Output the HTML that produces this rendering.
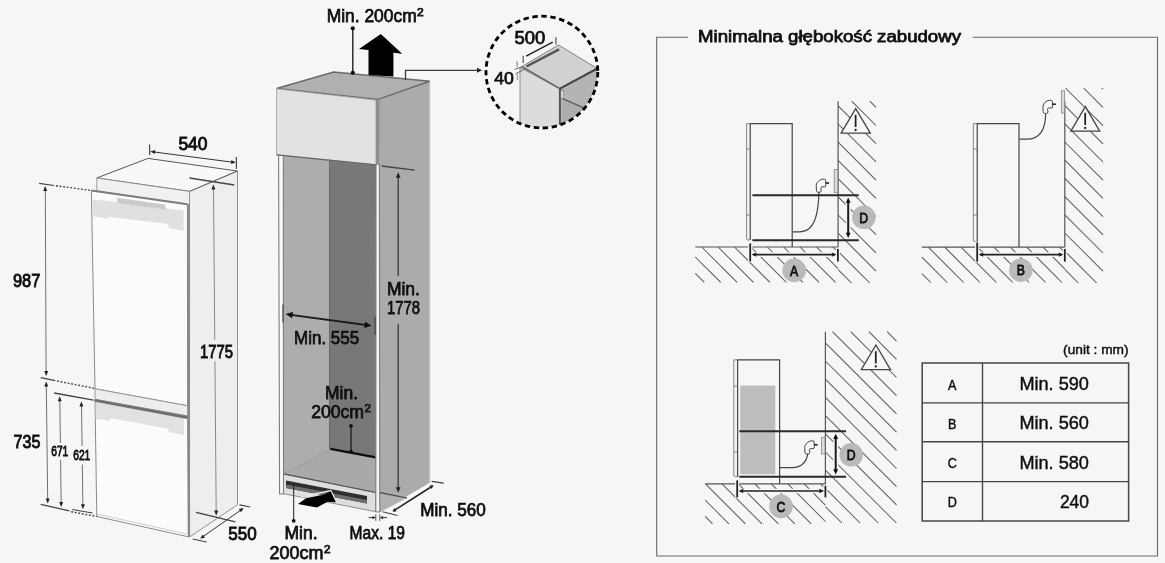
<!DOCTYPE html>
<html><head><meta charset="utf-8">
<style>
html,body{margin:0;padding:0;background:#f6f6f6;}
svg{display:block;}
text{font-family:"Liberation Sans",sans-serif;fill:#111;}
.t{stroke:#111;stroke-width:0.75px;}
.tb{stroke-width:0.9px;}
.tl{stroke-width:0.45px;}
.n{stroke:none;}
</style></head>
<body>
<svg width="1165" height="563" viewBox="0 0 1165 563">
<defs>
<filter id="b1" x="-2%" y="-2%" width="104%" height="104%"><feGaussianBlur stdDeviation="0.5"/></filter>
<filter id="b2" x="-20%" y="-20%" width="140%" height="140%"><feGaussianBlur stdDeviation="0.5"/></filter>
<clipPath id="cc"><circle cx="541.9" cy="72.1" r="55.5"/></clipPath>
</defs>
<rect width="1165" height="563" fill="#f6f6f6"/>
<g filter="url(#b1)">
<!-- left fridge -->
<polygon points="189.5,191.4 237.5,171 237.5,504.8 189.5,537" fill="#eeeeee" stroke="#909090" stroke-width="1"/>
<polygon points="96.8,178 148,158.4 237.3,171 189.5,191.4" fill="#f8f8f8" stroke="#555" stroke-width="1"/>
<polygon points="96.8,178 189.5,191.4 189.5,205 96.8,191" fill="#f1f1f1" stroke="#888" stroke-width="0.8"/>
<polygon points="91.4,190.4 187.4,204.2 187.6,405.8 95,388.8" fill="#fbfbfb" stroke="#8a8a8a" stroke-width="1"/>
<polygon points="92.8,199.6 117,202 117.2,197.7 165.1,204.5 166,208.5 183.6,210.4 183.6,231 169,228 168,224 108.4,216.7 107.5,218.7 92.8,216.3" fill="#dddddd" opacity="0.9"/>
<polygon points="117.2,198 165.1,204.8 165.1,209.6 117.2,202.8" fill="#c6c6c6" opacity="0.85"/>
<line x1="91.4" y1="190.6" x2="187.4" y2="204.2" stroke="#7d7d7d" stroke-width="2"/>
<polygon points="95,388.8 187.6,405.8 187.6,416 95,399.4" fill="#ededed" stroke="#888" stroke-width="0.8"/>
<polygon points="95,399.4 187.6,416 188.4,536.8 96.8,516.5" fill="#fbfbfb" stroke="#8a8a8a" stroke-width="1"/>
<polygon points="95.7,402 184,418.3 184,435 169,432 168,428.8 110.4,418.1 109.4,420.5 95.7,419" fill="#dedede" opacity="0.9"/>
<line x1="94.8" y1="400.5" x2="187.5" y2="417.6" stroke="#6e6e6e" stroke-width="2.6"/>
<line x1="97.5" y1="514.2" x2="187.6" y2="534.2" stroke="#c8c8c8" stroke-width="0.9"/>
<line x1="188.4" y1="204" x2="189" y2="537" stroke="#888" stroke-width="2.2"/>
<line x1="149.6" y1="144.5" x2="149.6" y2="155" stroke="#444" stroke-width="1.2"/>
<line x1="236.4" y1="157" x2="236.4" y2="169" stroke="#444" stroke-width="1.2"/>
<line x1="151" y1="151.6" x2="235" y2="162.5" stroke="#333" stroke-width="1"/>
<polygon points="150.6,151.5 155.3,150.1 154.8,154.1" fill="#222"/>
<polygon points="235.6,162.6 230.9,164.0 231.4,160.0" fill="#222"/>
<text x="178.4" y="149.5" font-size="17.6" text-anchor="start" class="t tb" textLength="29.1" lengthAdjust="spacingAndGlyphs">540</text>
<line x1="39.2" y1="183.3" x2="54" y2="185.5" stroke="#444" stroke-width="1.2"/>
<line x1="56" y1="185.7" x2="90.4" y2="190.4" stroke="#444" stroke-width="1.4" stroke-dasharray="1.9,1.7"/>
<line x1="45.3" y1="188" x2="46.1" y2="374" stroke="#707070" stroke-width="1"/>
<polygon points="45.2,186.0 47.2,191.0 43.2,191.0" fill="#222"/>
<polygon points="46.2,376.0 44.2,371.0 48.2,371.0" fill="#222"/>
<line x1="40.7" y1="377.7" x2="55.2" y2="380.7" stroke="#444" stroke-width="1.2"/>
<line x1="57" y1="381" x2="94.6" y2="388.4" stroke="#444" stroke-width="1.4" stroke-dasharray="1.9,1.7"/>
<line x1="46.3" y1="384" x2="47.7" y2="501" stroke="#707070" stroke-width="1"/>
<polygon points="46.2,381.4 48.2,386.4 44.2,386.4" fill="#222"/>
<polygon points="47.7,503.5 45.7,498.5 49.7,498.5" fill="#222"/>
<text x="12.9" y="287.2" font-size="19" text-anchor="start" class="t tb" textLength="27.5" lengthAdjust="spacingAndGlyphs">987</text>
<text x="13.6" y="447.5" font-size="19" text-anchor="start" class="t tb" textLength="26.9" lengthAdjust="spacingAndGlyphs">735</text>
<line x1="54.1" y1="393" x2="93.6" y2="400.1" stroke="#444" stroke-width="1.3"/>
<line x1="59.8" y1="399" x2="61.2" y2="505" stroke="#707070" stroke-width="1"/>
<polygon points="59.7,396.3 61.7,401.3 57.7,401.3" fill="#222"/>
<polygon points="61.2,507.0 59.2,502.0 63.2,502.0" fill="#222"/>
<line x1="81.5" y1="404" x2="82.9" y2="507" stroke="#707070" stroke-width="1"/>
<polygon points="81.4,401.4 83.4,406.4 79.4,406.4" fill="#222"/>
<polygon points="82.9,509.3 80.9,504.3 84.9,504.3" fill="#222"/>
<rect x="50" y="443" width="20" height="17" fill="#f6f6f6"/>
<text x="51.2" y="455.8" font-size="14.6" text-anchor="start" class="t tb" textLength="17.1" lengthAdjust="spacingAndGlyphs">671</text>
<rect x="72" y="446" width="20" height="18.5" fill="#f6f6f6"/>
<text x="73.2" y="460" font-size="14.6" text-anchor="start" class="t tb" textLength="17.1" lengthAdjust="spacingAndGlyphs">621</text>
<line x1="40.7" y1="504.4" x2="69.5" y2="510.8" stroke="#444" stroke-width="1.2"/>
<line x1="72.2" y1="509.5" x2="92.5" y2="513" stroke="#444" stroke-width="1.2"/>
<line x1="71.2" y1="511.7" x2="96.8" y2="516.5" stroke="#444" stroke-width="1.4" stroke-dasharray="1.9,1.7"/>
<line x1="189.5" y1="178" x2="234.3" y2="185" stroke="#444" stroke-width="1.3"/>
<line x1="213.5" y1="187" x2="216.2" y2="513" stroke="#888" stroke-width="1"/>
<polygon points="213.4,184.5 215.4,189.5 211.4,189.5" fill="#222"/>
<polygon points="216.2,515.5 214.2,510.5 218.2,510.5" fill="#222"/>
<line x1="195.9" y1="512.3" x2="235.4" y2="521.9" stroke="#444" stroke-width="1.3"/>
<rect x="198" y="339.8" width="36" height="21.4" fill="#eeeeee"/>
<text x="200" y="357.6" font-size="18.5" text-anchor="start" class="t tb" textLength="33" lengthAdjust="spacingAndGlyphs">1775</text>
<line x1="192.7" y1="539" x2="206.6" y2="542" stroke="#444" stroke-width="1.2"/>
<line x1="239.6" y1="504.8" x2="250.3" y2="507" stroke="#444" stroke-width="1.2"/>
<line x1="201.2" y1="537.9" x2="242.8" y2="508.7" stroke="#333" stroke-width="1"/>
<polygon points="200.2,538.6 202.7,534.4 205.0,537.7" fill="#222"/>
<polygon points="243.6,508.1 241.1,512.3 238.8,509.0" fill="#222"/>
<text x="228.3" y="540.2" font-size="18.5" text-anchor="start" class="t tb" textLength="28.4" lengthAdjust="spacingAndGlyphs">550</text>
<!-- cabinet -->
<polygon points="379,99.4 430,81.3 430,482.4 379.8,512.3" fill="#ababab"/>
<polygon points="379.8,492.8 407,498 379.8,512.3" fill="#b1b1b1"/>
<line x1="379.8" y1="492.6" x2="407.2" y2="498" stroke="#444" stroke-width="1.2"/>
<polygon points="281,150 377,160 377,493 281,474" fill="#a9a9a9"/>
<polygon points="283,150 329.5,158 329.5,449 283,474" fill="#adadad"/>
<polygon points="329.5,155 376.2,164 376.2,458 329.5,449" fill="#787878"/>
<line x1="329.5" y1="158" x2="329.5" y2="449" stroke="#6a6a6a" stroke-width="1"/>
<polygon points="330.4,449.3 375.8,457.8 375.8,492.5 283.5,473.9" fill="#a9a9a9"/>
<line x1="283.5" y1="473.9" x2="330.4" y2="449.3" stroke="#999" stroke-width="0.8"/>
<line x1="330.4" y1="448.9" x2="375.8" y2="457.4" stroke="#111" stroke-width="2.4"/>
<polygon points="283.5,473.9 375.8,492.5 375.8,511.7 283.5,493.7" fill="#dedede" stroke="#777" stroke-width="0.8"/>
<line x1="283.5" y1="473.9" x2="375.8" y2="492.5" stroke="#555" stroke-width="1.2"/>
<polygon points="286,480.5 367,495.9 367,503.4 286,487.9" fill="#2e2e2e"/>
<polygon points="289,485 367,500 367,503.4 286,487.9 286,485" fill="#6e6e6e"/>
<polygon points="278.6,154.5 283.3,155.3 283.5,494 279.6,494" fill="#fafafa" stroke="#7c7c7c" stroke-width="1.1"/>
<polygon points="376,164 379.4,164 379.8,512 375.8,511.7" fill="#f4f4f4" stroke="#7c7c7c" stroke-width="1.1"/>
<polygon points="276.6,88.5 333.6,72 429.8,81.2 377.4,99.6" fill="#b0b0b0" stroke="#6a6a6a" stroke-width="1.5"/>
<polygon points="276.6,88.8 376.2,100.1 376.2,164.9 276.6,154.9" fill="#e2e2e2" stroke="#999" stroke-width="0.8"/>
<line x1="276.6" y1="154.9" x2="376.2" y2="164.9" stroke="#666" stroke-width="1.2"/>
<polygon points="375.8,100.1 379.4,99.4 379.4,164.8 375.8,164.9" fill="#8e8e8e"/>
<line x1="429.6" y1="82" x2="429.6" y2="482" stroke="#c2c2c2" stroke-width="1.2"/>
<line x1="352.8" y1="28.4" x2="352.8" y2="72.8" stroke="#222" stroke-width="1.4"/>
<circle cx="352.8" cy="28.3" r="2.1" fill="#111"/><circle cx="352.8" cy="72.8" r="2.1" fill="#111"/>
<polygon points="380.8,33.9 402.2,53.7 393.4,52.7 393.4,76.6 368.5,74.9 368.5,49.9 359,49" fill="#000"/>
<polyline points="405.5,80 405.5,70.3 479,70.3" fill="none" stroke="#3a3a3a" stroke-width="1.3"/>
<polygon points="482.0,70.3 477.0,72.8 477.0,67.8" fill="#222"/>
<text x="326.7" y="21.9" font-size="18" text-anchor="start" class="t" textLength="90.0" lengthAdjust="spacingAndGlyphs">Min. 200cm</text>
<text x="417.1" y="15.6" font-size="11.5" text-anchor="start" class="t" textLength="6.7" lengthAdjust="spacingAndGlyphs">2</text>
<line x1="381.5" y1="166" x2="414.6" y2="170.2" stroke="#444" stroke-width="1.3"/>
<line x1="398.2" y1="175" x2="398.2" y2="276" stroke="#3a3a3a" stroke-width="1.3"/>
<polygon points="398.2,172.3 400.6,177.8 395.8,177.8" fill="#222"/>
<line x1="398.2" y1="323.7" x2="398.2" y2="490" stroke="#3a3a3a" stroke-width="1.3"/>
<polygon points="398.2,492.7 395.8,487.2 400.6,487.2" fill="#222"/>
<text x="386.9" y="294.9" font-size="17.5" text-anchor="start" class="t" textLength="33" lengthAdjust="spacingAndGlyphs">Min.</text>
<text x="386.9" y="313.7" font-size="17.5" text-anchor="start" class="t" textLength="33" lengthAdjust="spacingAndGlyphs">1778</text>
<line x1="283" y1="304.5" x2="283" y2="322.6" stroke="#444" stroke-width="1.2"/>
<line x1="375.1" y1="316.7" x2="375.1" y2="335" stroke="#444" stroke-width="1.2"/>
<line x1="289" y1="314.6" x2="368" y2="325.3" stroke="#1a1a1a" stroke-width="1.9"/>
<polygon points="285.6,314.1 293.0,311.9 292.1,318.2" fill="#111"/>
<polygon points="371.6,325.8 364.2,328.0 365.1,321.7" fill="#111"/>
<text x="294.1" y="343.5" font-size="17.5" text-anchor="start" class="t" textLength="65" lengthAdjust="spacingAndGlyphs">Min. 555</text>
<text x="325" y="398.8" font-size="17.5" text-anchor="start" class="t" textLength="33" lengthAdjust="spacingAndGlyphs">Min.</text>
<text x="311.2" y="418.4" font-size="17.5" text-anchor="start" class="t" textLength="52.8" lengthAdjust="spacingAndGlyphs">200cm</text>
<text x="364.4" y="412.3" font-size="11.2" text-anchor="start" class="t" textLength="6.5" lengthAdjust="spacingAndGlyphs">2</text>
<line x1="351" y1="425.8" x2="351" y2="451.4" stroke="#111" stroke-width="1.2"/>
<circle cx="351" cy="425.8" r="1.9" fill="#111"/><circle cx="351" cy="451.6" r="1.9" fill="#111"/>
<polyline points="301,497 330.7,490.6 336.8,502.4" fill="none" stroke="#e8e8e8" stroke-width="1.4"/><polygon points="297.9,504.1 306.2,498.3 323.3,494.8 330.7,491.4 335.9,502.3 327.6,501.8 316.9,507.6" fill="#000"/>
<line x1="293.7" y1="484.6" x2="293.7" y2="520.8" stroke="#222" stroke-width="1"/>
<circle cx="293.7" cy="520.8" r="1.9" fill="#111"/>
<text x="284.5" y="539" font-size="17.5" text-anchor="start" class="t" textLength="33" lengthAdjust="spacingAndGlyphs">Min.</text>
<text x="269.6" y="559.2" font-size="17.5" text-anchor="start" class="t" textLength="53.9" lengthAdjust="spacingAndGlyphs">200cm</text>
<text x="323.9" y="553.1" font-size="11.2" text-anchor="start" class="t" textLength="6.5" lengthAdjust="spacingAndGlyphs">2</text>
<line x1="375.8" y1="514.4" x2="375.8" y2="520.8" stroke="#555" stroke-width="1"/>
<line x1="379.8" y1="514.4" x2="379.8" y2="520.8" stroke="#555" stroke-width="1"/>
<line x1="368.7" y1="517.6" x2="374" y2="517.6" stroke="#333" stroke-width="1"/>
<line x1="381.6" y1="517.6" x2="387" y2="517.6" stroke="#333" stroke-width="1"/>
<polygon points="375.6,517.6 372.6,519.2 372.6,516.0" fill="#222"/>
<polygon points="380.0,517.6 383.0,516.0 383.0,519.2" fill="#222"/>
<text x="349.6" y="539" font-size="17.5" text-anchor="start" class="t" textLength="55.4" lengthAdjust="spacingAndGlyphs">Max. 19</text>
<line x1="382.6" y1="511.7" x2="397.5" y2="515.5" stroke="#444" stroke-width="1.1"/>
<line x1="431.6" y1="481.4" x2="443.8" y2="483.1" stroke="#444" stroke-width="1.1"/>
<line x1="393.5" y1="510.9" x2="432.5" y2="486" stroke="#222" stroke-width="1.5"/>
<polygon points="392.4,511.6 394.4,508.0 396.5,511.4" fill="#222"/>
<polygon points="433.6,485.3 431.6,488.9 429.5,485.5" fill="#222"/>
<text x="420.3" y="516.1" font-size="17.5" text-anchor="start" class="t" textLength="65.5" lengthAdjust="spacingAndGlyphs">Min. 560</text>
<!-- detail circle -->
<g clip-path="url(#cc)">
<polygon points="520,67.5 559.9,89 559.9,135 520,135" fill="#dcdcdc" stroke="#888" stroke-width="0.9"/>
<polygon points="559.9,88.6 598,68.3 598,135 559.9,135" fill="#b4b4b4"/>
<polygon points="562.6,98.6 584,108 562.6,135" fill="#adadad"/>
<line x1="562.6" y1="98.6" x2="584" y2="108" stroke="#555" stroke-width="1.2"/>
<polygon points="521,67 558.6,45 596.9,68.3 559.9,88.6" fill="#d1d1d1" stroke="#777" stroke-width="0.9"/>
<line x1="522" y1="66.7" x2="559.9" y2="88.6" stroke="#666" stroke-width="1.4"/>
<line x1="526.4" y1="66.5" x2="559.1" y2="49.4" stroke="#555" stroke-width="2.4"/>
<line x1="559.9" y1="88.6" x2="597.4" y2="68.5" stroke="#444" stroke-width="2"/>
<line x1="559.9" y1="89" x2="559.9" y2="135" stroke="#555" stroke-width="2"/>
<rect x="560.9" y="90.8" width="2.8" height="7.6" fill="#e8e8e8" stroke="#666" stroke-width="0.6"/>
</g>
<circle cx="541.9" cy="72.1" r="55.9" fill="none" stroke="#000" stroke-width="2.8" stroke-dasharray="5.4,3.65"/>
<line x1="523.2" y1="55.8" x2="523.2" y2="63.1" stroke="#555" stroke-width="1.2"/>
<line x1="555.9" y1="37.2" x2="555.9" y2="44.5" stroke="#555" stroke-width="1.2"/>
<line x1="526.2" y1="56.1" x2="552.7" y2="42.1" stroke="#222" stroke-width="1.5"/>
<text x="514.6" y="44.4" font-size="17.5" text-anchor="start" class="t" textLength="30.8" lengthAdjust="spacingAndGlyphs">500</text>
<line x1="517.1" y1="61.5" x2="517.1" y2="66.5" stroke="#777" stroke-width="1.1"/>
<line x1="517.3" y1="73.5" x2="517.3" y2="80" stroke="#999" stroke-width="1.1"/>
<line x1="514.6" y1="69.4" x2="521" y2="67" stroke="#555" stroke-width="0.9"/>
<line x1="515.6" y1="73.8" x2="523.4" y2="69.9" stroke="#555" stroke-width="0.9"/>
<text x="494.2" y="83.9" font-size="17.3" text-anchor="start" class="t" textLength="19.6" lengthAdjust="spacingAndGlyphs">40</text>
<!-- right panel -->
<path d="M688,37.2 H656.7 V556 H1157.5 V37.2 H972.6" fill="none" stroke="#6a6a6a" stroke-width="1.15"/>
<text x="698" y="42" font-size="16.3" text-anchor="start" class="t" textLength="263" lengthAdjust="spacingAndGlyphs">Minimalna głębokość zabudowy</text>
<line x1="869.9" y1="101.2" x2="876" y2="107.3" stroke="#5c5c5c" stroke-width="1.05"/>
<line x1="851.7" y1="101.2" x2="876" y2="125.5" stroke="#5c5c5c" stroke-width="1.05"/>
<line x1="838.1" y1="105.8" x2="876" y2="143.7" stroke="#5c5c5c" stroke-width="1.05"/>
<line x1="838.1" y1="124.0" x2="876" y2="161.9" stroke="#5c5c5c" stroke-width="1.05"/>
<line x1="838.1" y1="142.2" x2="876" y2="180.1" stroke="#5c5c5c" stroke-width="1.05"/>
<line x1="838.1" y1="160.4" x2="876" y2="198.3" stroke="#5c5c5c" stroke-width="1.05"/>
<line x1="838.1" y1="178.6" x2="876" y2="216.5" stroke="#5c5c5c" stroke-width="1.05"/>
<line x1="838.1" y1="196.8" x2="876" y2="234.7" stroke="#5c5c5c" stroke-width="1.05"/>
<line x1="838.1" y1="215.0" x2="876" y2="252.9" stroke="#5c5c5c" stroke-width="1.05"/>
<line x1="838.1" y1="233.2" x2="876" y2="271.1" stroke="#5c5c5c" stroke-width="1.05"/>
<line x1="838.1" y1="251.4" x2="869.7" y2="283" stroke="#5c5c5c" stroke-width="1.05"/>
<line x1="838.1" y1="269.6" x2="851.5" y2="283" stroke="#5c5c5c" stroke-width="1.05"/>
<line x1="695.3" y1="273.4" x2="704.3" y2="282.4" stroke="#5c5c5c" stroke-width="1.05"/>
<line x1="695.3" y1="257.0" x2="720.7" y2="282.4" stroke="#5c5c5c" stroke-width="1.05"/>
<line x1="701.7" y1="247" x2="737.1" y2="282.4" stroke="#5c5c5c" stroke-width="1.05"/>
<line x1="718.1" y1="247" x2="753.5" y2="282.4" stroke="#5c5c5c" stroke-width="1.05"/>
<line x1="734.5" y1="247" x2="769.9" y2="282.4" stroke="#5c5c5c" stroke-width="1.05"/>
<line x1="750.9" y1="247" x2="786.3" y2="282.4" stroke="#5c5c5c" stroke-width="1.05"/>
<line x1="767.3" y1="247" x2="802.7" y2="282.4" stroke="#5c5c5c" stroke-width="1.05"/>
<line x1="783.7" y1="247" x2="819.1" y2="282.4" stroke="#5c5c5c" stroke-width="1.05"/>
<line x1="800.1" y1="247" x2="835.5" y2="282.4" stroke="#5c5c5c" stroke-width="1.05"/>
<line x1="816.5" y1="247" x2="838.1" y2="268.6" stroke="#5c5c5c" stroke-width="1.05"/>
<line x1="832.9" y1="247" x2="838.1" y2="252.2" stroke="#5c5c5c" stroke-width="1.05"/>
<line x1="838.1" y1="101.2" x2="838.1" y2="247" stroke="#555" stroke-width="1.2"/>
<line x1="695.3" y1="247" x2="838.1" y2="247" stroke="#555" stroke-width="1.2"/>
<path d="M750.2,240 V123.7 H792.2 V247" fill="none" stroke="#444" stroke-width="1.2"/>
<path d="M750.2,123.7 H746.6 V238.5 Q746.6,240 748,240 H750" fill="none" stroke="#777" stroke-width="0.9"/>
<line x1="746.6" y1="149" x2="750" y2="149" stroke="#777" stroke-width="0.9"/>
<line x1="746.6" y1="215" x2="750" y2="215" stroke="#777" stroke-width="0.9"/>
<rect x="834.2" y="169.4" width="3.6" height="23" fill="#dcdcdc" stroke="#888" stroke-width="0.8"/>
<path d="M819,192 C818.5,210 816,231.8 800,231.8 H792.4" fill="none" stroke="#444" stroke-width="1.2"/>
<path d="M816.5,190.6 L816.2,185.8 C816.2,183.1 818.2,180.6 821.3,179.4 C822.7,179.0 823.7,179.1 824.5,179.1 Q825.6,179.1 825.6,180.2 L825.8,186.3 Q825.6,186.8 824.5,186.8 L821.8,186.8 Q820.8,187.1 820.8,188.4 L821.3,190.6 Q821.2,192.2 819.7,192.2 L817.6,192.2 Q816.5,192.1 816.5,190.6 Z" fill="#f8f8f8" stroke="#3a3a3a" stroke-width="0.95"/>
<line x1="825.8" y1="183.0" x2="829.1" y2="183.0" stroke="#111" stroke-width="1.5"/>
<line x1="752.4" y1="195.2" x2="858.8" y2="195.2" stroke="#2a2a2a" stroke-width="2"/>
<line x1="752.4" y1="240.3" x2="858.8" y2="240.3" stroke="#2a2a2a" stroke-width="2"/>
<line x1="848.2" y1="197.6" x2="848.2" y2="238" stroke="#f6f6f6" stroke-width="5"/>
<line x1="848.2" y1="200.6" x2="848.2" y2="235" stroke="#1a1a1a" stroke-width="2"/>
<polygon points="848.2,197.6 850.6,202.8 845.8,202.8" fill="#111"/>
<polygon points="848.2,238.0 845.8,232.8 850.6,232.8" fill="#111"/>
<circle cx="863.8" cy="217.3" r="11.8" fill="#bababa" filter="url(#b2)"/>
<text x="863.8" y="222.55" font-size="14.6" text-anchor="middle" class="t" style="stroke-width:0.8px" transform="translate(863.8,0) scale(0.84,1) translate(-863.8,0)">D</text>
<line x1="750.2" y1="242.6" x2="750.2" y2="262.2" stroke="#f6f6f6" stroke-width="4.2"/>
<line x1="837.9" y1="248.1" x2="837.9" y2="262.2" stroke="#f6f6f6" stroke-width="4.2"/>
<line x1="750.2" y1="254.6" x2="837.9" y2="254.6" stroke="#f6f6f6" stroke-width="4.6"/>
<line x1="750.2" y1="243.4" x2="750.2" y2="261.4" stroke="#222" stroke-width="1.8"/>
<line x1="837.9" y1="248.9" x2="837.9" y2="261.4" stroke="#222" stroke-width="1.8"/>
<line x1="753.2" y1="254.6" x2="834.9" y2="254.6" stroke="#222" stroke-width="1.7"/>
<polygon points="751.6,254.6 756.2,252.4 756.2,256.8" fill="#222"/>
<polygon points="836.5,254.6 831.9,256.8 831.9,252.4" fill="#222"/>
<circle cx="794.2" cy="270.4" r="11.8" fill="#bababa" filter="url(#b2)"/>
<text x="794.2" y="275.65" font-size="14.6" text-anchor="middle" class="t" style="stroke-width:0.8px" transform="translate(794.2,0) scale(0.84,1) translate(-794.2,0)">A</text>
<polygon points="855.7,108.6 841.1,133.2 870.3000000000001,133.2" fill="#f8f8f8" stroke="#444" stroke-width="1.3" stroke-linejoin="miter"/>
<line x1="855.6" y1="114.8" x2="855.6" y2="126.99999999999999" stroke="#222" stroke-width="1.8"/>
<circle cx="855.6" cy="130.0" r="1.15" fill="#222"/>
<line x1="1101.8" y1="88" x2="1103" y2="89.2" stroke="#5c5c5c" stroke-width="1.05"/>
<line x1="1083.6" y1="88" x2="1103" y2="107.4" stroke="#5c5c5c" stroke-width="1.05"/>
<line x1="1065.4" y1="88" x2="1103" y2="125.6" stroke="#5c5c5c" stroke-width="1.05"/>
<line x1="1064.8" y1="105.6" x2="1103" y2="143.8" stroke="#5c5c5c" stroke-width="1.05"/>
<line x1="1064.8" y1="123.8" x2="1103" y2="162.0" stroke="#5c5c5c" stroke-width="1.05"/>
<line x1="1064.8" y1="142.0" x2="1103" y2="180.2" stroke="#5c5c5c" stroke-width="1.05"/>
<line x1="1064.8" y1="160.2" x2="1103" y2="198.4" stroke="#5c5c5c" stroke-width="1.05"/>
<line x1="1064.8" y1="178.4" x2="1103" y2="216.6" stroke="#5c5c5c" stroke-width="1.05"/>
<line x1="1064.8" y1="196.6" x2="1103" y2="234.8" stroke="#5c5c5c" stroke-width="1.05"/>
<line x1="1064.8" y1="214.8" x2="1103" y2="253.0" stroke="#5c5c5c" stroke-width="1.05"/>
<line x1="1064.8" y1="233.0" x2="1103" y2="271.2" stroke="#5c5c5c" stroke-width="1.05"/>
<line x1="1064.8" y1="251.2" x2="1096.6" y2="283" stroke="#5c5c5c" stroke-width="1.05"/>
<line x1="1064.8" y1="269.4" x2="1078.4" y2="283" stroke="#5c5c5c" stroke-width="1.05"/>
<line x1="921.9" y1="273.6" x2="930.8" y2="282.5" stroke="#5c5c5c" stroke-width="1.05"/>
<line x1="921.9" y1="257.2" x2="947.2" y2="282.5" stroke="#5c5c5c" stroke-width="1.05"/>
<line x1="928.3" y1="247.2" x2="963.6" y2="282.5" stroke="#5c5c5c" stroke-width="1.05"/>
<line x1="944.7" y1="247.2" x2="980.0" y2="282.5" stroke="#5c5c5c" stroke-width="1.05"/>
<line x1="961.1" y1="247.2" x2="996.4" y2="282.5" stroke="#5c5c5c" stroke-width="1.05"/>
<line x1="977.5" y1="247.2" x2="1012.8" y2="282.5" stroke="#5c5c5c" stroke-width="1.05"/>
<line x1="993.9" y1="247.2" x2="1029.2" y2="282.5" stroke="#5c5c5c" stroke-width="1.05"/>
<line x1="1010.3" y1="247.2" x2="1045.6" y2="282.5" stroke="#5c5c5c" stroke-width="1.05"/>
<line x1="1026.7" y1="247.2" x2="1062.0" y2="282.5" stroke="#5c5c5c" stroke-width="1.05"/>
<line x1="1043.1" y1="247.2" x2="1064.8" y2="268.9" stroke="#5c5c5c" stroke-width="1.05"/>
<line x1="1059.5" y1="247.2" x2="1064.8" y2="252.5" stroke="#5c5c5c" stroke-width="1.05"/>
<line x1="1064.8" y1="101.3" x2="1064.8" y2="247" stroke="#555" stroke-width="1.2"/>
<line x1="921.9" y1="247.2" x2="1064.8" y2="247.2" stroke="#555" stroke-width="1.2"/>
<path d="M977.2,247 V123.7 H1019 V247" fill="none" stroke="#444" stroke-width="1.2"/>
<path d="M977.2,123.7 H973.3 V240 Q973.3,241.4 974.7,241.4 H977" fill="none" stroke="#777" stroke-width="0.9"/>
<line x1="973.3" y1="149" x2="977" y2="149" stroke="#777" stroke-width="0.9"/>
<line x1="973.3" y1="215" x2="977" y2="215" stroke="#777" stroke-width="0.9"/>
<rect x="1061.4" y="90.7" width="3.2" height="22.3" fill="#dcdcdc" stroke="#888" stroke-width="0.8"/>
<path d="M1045.7,114 C1045.5,124 1043.5,139.2 1027,139.2 H1019" fill="none" stroke="#444" stroke-width="1.2"/>
<path d="M1043.2,111.8 L1042.9,107.0 C1042.9,104.3 1044.9,101.8 1048.0,100.6 C1049.4,100.2 1050.4,100.3 1051.2,100.3 Q1052.3,100.3 1052.3,101.4 L1052.5,107.5 Q1052.3,108.0 1051.2,108.0 L1048.5,108.0 Q1047.5,108.3 1047.5,109.6 L1048.0,111.8 Q1047.9,113.4 1046.4,113.4 L1044.3,113.4 Q1043.2,113.3 1043.2,111.8 Z" fill="#f8f8f8" stroke="#3a3a3a" stroke-width="0.95"/>
<line x1="1052.5" y1="104.2" x2="1055.8" y2="104.2" stroke="#111" stroke-width="1.5"/>
<line x1="977.2" y1="241.7" x2="977.2" y2="262.5" stroke="#f6f6f6" stroke-width="4.2"/>
<line x1="1064.8" y1="248.1" x2="1064.8" y2="262.5" stroke="#f6f6f6" stroke-width="4.2"/>
<line x1="977.2" y1="254.6" x2="1064.8" y2="254.6" stroke="#f6f6f6" stroke-width="4.6"/>
<line x1="977.2" y1="242.5" x2="977.2" y2="261.7" stroke="#222" stroke-width="1.8"/>
<line x1="1064.8" y1="248.9" x2="1064.8" y2="261.7" stroke="#222" stroke-width="1.8"/>
<line x1="980.2" y1="254.6" x2="1061.8" y2="254.6" stroke="#222" stroke-width="1.7"/>
<polygon points="978.6,254.6 983.2,252.4 983.2,256.8" fill="#222"/>
<polygon points="1063.4,254.6 1058.8,256.8 1058.8,252.4" fill="#222"/>
<circle cx="1020.9" cy="270.2" r="11.8" fill="#bababa" filter="url(#b2)"/>
<text x="1020.9" y="275.45" font-size="14.6" text-anchor="middle" class="t" style="stroke-width:0.8px" transform="translate(1020.9,0) scale(0.84,1) translate(-1020.9,0)">B</text>
<polygon points="1085.3,106.6 1070.8999999999999,131.2 1099.7,131.2" fill="#f8f8f8" stroke="#444" stroke-width="1.3" stroke-linejoin="miter"/>
<line x1="1085.2" y1="112.8" x2="1085.2" y2="124.99999999999999" stroke="#222" stroke-width="1.8"/>
<circle cx="1085.2" cy="127.99999999999999" r="1.15" fill="#222"/>
<line x1="887.1" y1="331.7" x2="896.5" y2="341.1" stroke="#5c5c5c" stroke-width="1.05"/>
<line x1="868.9" y1="331.7" x2="896.5" y2="359.3" stroke="#5c5c5c" stroke-width="1.05"/>
<line x1="850.7" y1="331.7" x2="896.5" y2="377.5" stroke="#5c5c5c" stroke-width="1.05"/>
<line x1="832.5" y1="331.7" x2="896.5" y2="395.7" stroke="#5c5c5c" stroke-width="1.05"/>
<line x1="825.4" y1="342.8" x2="896.5" y2="413.9" stroke="#5c5c5c" stroke-width="1.05"/>
<line x1="825.4" y1="361.0" x2="896.5" y2="432.1" stroke="#5c5c5c" stroke-width="1.05"/>
<line x1="825.4" y1="379.2" x2="896.5" y2="450.3" stroke="#5c5c5c" stroke-width="1.05"/>
<line x1="825.4" y1="397.4" x2="896.5" y2="468.5" stroke="#5c5c5c" stroke-width="1.05"/>
<line x1="825.4" y1="415.6" x2="896.5" y2="486.7" stroke="#5c5c5c" stroke-width="1.05"/>
<line x1="825.4" y1="433.8" x2="896.5" y2="504.9" stroke="#5c5c5c" stroke-width="1.05"/>
<line x1="825.4" y1="452.0" x2="896.4" y2="523" stroke="#5c5c5c" stroke-width="1.05"/>
<line x1="825.4" y1="470.2" x2="878.2" y2="523" stroke="#5c5c5c" stroke-width="1.05"/>
<line x1="825.4" y1="488.4" x2="860.0" y2="523" stroke="#5c5c5c" stroke-width="1.05"/>
<line x1="825.4" y1="506.6" x2="841.8" y2="523" stroke="#5c5c5c" stroke-width="1.05"/>
<line x1="705.1" y1="516.4" x2="712.5" y2="523.8" stroke="#5c5c5c" stroke-width="1.05"/>
<line x1="705.1" y1="500.0" x2="728.9" y2="523.8" stroke="#5c5c5c" stroke-width="1.05"/>
<line x1="705.5" y1="483.9" x2="745.4" y2="523.8" stroke="#5c5c5c" stroke-width="1.05"/>
<line x1="722.0" y1="483.9" x2="761.9" y2="523.8" stroke="#5c5c5c" stroke-width="1.05"/>
<line x1="738.4" y1="483.9" x2="778.3" y2="523.8" stroke="#5c5c5c" stroke-width="1.05"/>
<line x1="754.9" y1="483.9" x2="794.8" y2="523.8" stroke="#5c5c5c" stroke-width="1.05"/>
<line x1="771.3" y1="483.9" x2="811.2" y2="523.8" stroke="#5c5c5c" stroke-width="1.05"/>
<line x1="787.8" y1="483.9" x2="825.4" y2="521.5" stroke="#5c5c5c" stroke-width="1.05"/>
<line x1="804.2" y1="483.9" x2="825.4" y2="505.1" stroke="#5c5c5c" stroke-width="1.05"/>
<line x1="820.7" y1="483.9" x2="825.4" y2="488.6" stroke="#5c5c5c" stroke-width="1.05"/>
<line x1="825.4" y1="331.7" x2="825.4" y2="483.9" stroke="#555" stroke-width="1.2"/>
<line x1="705.1" y1="483.9" x2="825.4" y2="483.9" stroke="#555" stroke-width="1.2"/>
<rect x="740.3" y="385.5" width="35" height="88.8" fill="#bdbdbd"/>
<path d="M737.6,477 V359.9 H779.6 V483.6" fill="none" stroke="#444" stroke-width="1.2"/>
<path d="M737.6,359.9 H733.8 V475 Q733.8,476.6 735.2,476.6 H737.4" fill="none" stroke="#777" stroke-width="0.9"/>
<line x1="733.8" y1="386" x2="737.4" y2="386" stroke="#777" stroke-width="0.9"/>
<line x1="733.8" y1="452" x2="737.4" y2="452" stroke="#777" stroke-width="0.9"/>
<rect x="821.4" y="437.3" width="3.6" height="16.8" fill="#dcdcdc" stroke="#888" stroke-width="0.8"/>
<path d="M808,452.6 C807,460 803,467.6 792,467.6 H779.6" fill="none" stroke="#444" stroke-width="1.2"/>
<path d="M805.0,452.4 L804.7,447.6 C804.7,444.9 806.7,442.4 809.8,441.2 C811.2,440.8 812.2,440.9 813.0,440.9 Q814.1,440.9 814.1,442.0 L814.3,448.1 Q814.1,448.6 813.0,448.6 L810.3,448.6 Q809.3,448.9 809.3,450.2 L809.8,452.4 Q809.7,454.0 808.2,454.0 L806.1,454.0 Q805.0,453.9 805.0,452.4 Z" fill="#f8f8f8" stroke="#3a3a3a" stroke-width="0.95"/>
<line x1="814.3" y1="444.8" x2="817.6" y2="444.8" stroke="#111" stroke-width="1.5"/>
<line x1="739.3" y1="431.3" x2="846" y2="431.3" stroke="#2a2a2a" stroke-width="2"/>
<line x1="739.3" y1="476.7" x2="846" y2="476.7" stroke="#2a2a2a" stroke-width="2"/>
<line x1="835.7" y1="433.8" x2="835.7" y2="474.4" stroke="#f6f6f6" stroke-width="5"/>
<line x1="835.7" y1="436.8" x2="835.7" y2="471.4" stroke="#1a1a1a" stroke-width="2"/>
<polygon points="835.7,433.8 838.1,439.0 833.3,439.0" fill="#111"/>
<polygon points="835.7,474.4 833.3,469.2 838.1,469.2" fill="#111"/>
<circle cx="851.2" cy="454.8" r="11.8" fill="#bababa" filter="url(#b2)"/>
<text x="851.2" y="460.05" font-size="14.6" text-anchor="middle" class="t" style="stroke-width:0.8px" transform="translate(851.2,0) scale(0.84,1) translate(-851.2,0)">D</text>
<line x1="737.2" y1="479.59999999999997" x2="737.2" y2="498.2" stroke="#f6f6f6" stroke-width="4.2"/>
<line x1="825.4" y1="484.9" x2="825.4" y2="498.2" stroke="#f6f6f6" stroke-width="4.2"/>
<line x1="737.2" y1="491" x2="825.4" y2="491" stroke="#f6f6f6" stroke-width="4.6"/>
<line x1="737.2" y1="480.4" x2="737.2" y2="497.4" stroke="#222" stroke-width="1.8"/>
<line x1="825.4" y1="485.7" x2="825.4" y2="497.4" stroke="#222" stroke-width="1.8"/>
<line x1="740.2" y1="491" x2="822.4" y2="491" stroke="#222" stroke-width="1.7"/>
<polygon points="738.6,491.0 743.2,488.8 743.2,493.2" fill="#222"/>
<polygon points="824.0,491.0 819.4,493.2 819.4,488.8" fill="#222"/>
<circle cx="781" cy="506.4" r="11.8" fill="#bababa" filter="url(#b2)"/>
<text x="781" y="511.65" font-size="14.6" text-anchor="middle" class="t" style="stroke-width:0.8px" transform="translate(781,0) scale(0.84,1) translate(-781,0)">C</text>
<polygon points="875.9,345 861.3,369.6 890.5,369.6" fill="#f8f8f8" stroke="#444" stroke-width="1.3" stroke-linejoin="miter"/>
<line x1="875.8" y1="351.2" x2="875.8" y2="363.40000000000003" stroke="#222" stroke-width="1.8"/>
<circle cx="875.8" cy="366.40000000000003" r="1.15" fill="#222"/>
<rect x="922.2" y="363" width="206.4" height="158" fill="none" stroke="#444" stroke-width="1.5"/>
<line x1="922.2" y1="402.9" x2="1128.6" y2="402.9" stroke="#444" stroke-width="1.4"/>
<line x1="922.2" y1="441.8" x2="1128.6" y2="441.8" stroke="#444" stroke-width="1.4"/>
<line x1="922.2" y1="481.6" x2="1128.6" y2="481.6" stroke="#444" stroke-width="1.4"/>
<line x1="982.5" y1="363" x2="982.5" y2="521" stroke="#444" stroke-width="1.4"/>
<text x="1063.1" y="353.8" font-size="13" text-anchor="start" class="t tl" textLength="65.5" lengthAdjust="spacingAndGlyphs">(unit : mm)</text>
<text x="952.3" y="389.70000000000005" font-size="14" text-anchor="middle" class="t tl" transform="translate(952.3,0) scale(0.9,1) translate(-952.3,0)">A</text>
<text x="1019.4" y="390.1" font-size="18.5" text-anchor="start" class="t tl" textLength="69.5" lengthAdjust="spacingAndGlyphs">Min. 590</text>
<text x="952.3" y="429.0" font-size="14" text-anchor="middle" class="t tl" transform="translate(952.3,0) scale(0.9,1) translate(-952.3,0)">B</text>
<text x="1019.4" y="429.4" font-size="18.5" text-anchor="start" class="t tl" textLength="69.5" lengthAdjust="spacingAndGlyphs">Min. 560</text>
<text x="952.3" y="468.3" font-size="14" text-anchor="middle" class="t tl" transform="translate(952.3,0) scale(0.9,1) translate(-952.3,0)">C</text>
<text x="1019.4" y="468.7" font-size="18.5" text-anchor="start" class="t tl" textLength="69.5" lengthAdjust="spacingAndGlyphs">Min. 580</text>
<text x="952.3" y="507.40000000000003" font-size="14" text-anchor="middle" class="t tl" transform="translate(952.3,0) scale(0.9,1) translate(-952.3,0)">D</text>
<text x="1059.9" y="507.8" font-size="18.5" text-anchor="start" class="t tl" textLength="29.2" lengthAdjust="spacingAndGlyphs">240</text>
</g>
</svg>
</body></html>
